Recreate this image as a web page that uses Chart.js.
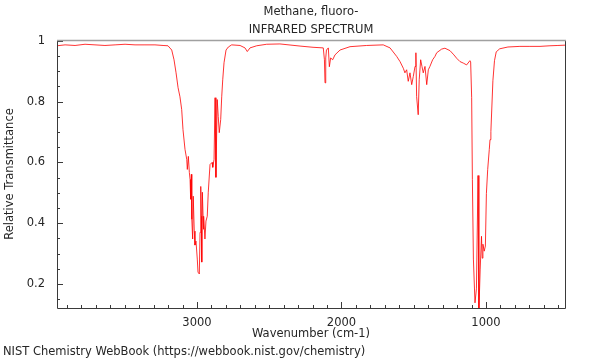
<!DOCTYPE html>
<html>
<head>
<meta charset="utf-8">
<script src="https://cdn.jsdelivr.net/npm/chart.js@4"></script>
<style>
  html, body { margin: 0; padding: 0; background: #fff; }
  #wrap { width: 600px; height: 360px; }
</style>
</head>
<body>
<div id="wrap"><canvas id="irChart" width="600" height="360"></canvas></div>
<script>
// IR spectrum of fluoromethane
var wavenumbers = [
  3969, 3913, 3844, 3775, 3706, 3637, 3567, 3498, 3429, 3360, 3291, 3235, 3201,
  3175, 3159, 3145, 3131, 3118, 3106, 3097, 3083, 3071, 3067, 3060, 3053, 3048,
  3044, 3039, 3036, 3030, 3026, 3019, 3014, 3007, 2998, 2993, 2984, 2979, 2974,
  2970, 2967, 2963, 2958, 2956, 2952, 2945, 2938, 2929, 2922, 2910, 2896, 2891,
  2882, 2875, 2869, 2860, 2853, 2846, 2836, 2829, 2822, 2813, 2799, 2783, 2760,
  2702, 2668, 2652, 2633, 2587, 2518, 2426, 2287, 2197, 2126, 2118, 2114, 2109,
  2104, 2091, 2084, 2075, 2061, 2045, 2010, 1941, 1826, 1711, 1664, 1618, 1595,
  1572, 1561, 1549, 1538, 1526, 1514, 1503, 1491, 1485, 1480, 1469, 1462, 1452,
  1443, 1434, 1422, 1410, 1399, 1388, 1369, 1353, 1341, 1307, 1284, 1249, 1222,
  1203, 1180, 1157, 1134, 1111, 1106, 1099, 1094, 1087, 1076, 1066, 1055, 1049,
  1040, 1031, 1026, 1021, 1012, 1004, 997, 988, 977, 972, 966, 952, 941, 929,
  905, 848, 765, 696, 626, 557, 502, 453
];
var transmittance = [
  0.984, 0.987, 0.985, 0.989, 0.987, 0.985, 0.987, 0.989, 0.987, 0.987, 0.987, 0.985, 0.984,
  0.970, 0.938, 0.895, 0.846, 0.816, 0.774, 0.708, 0.643, 0.610, 0.577, 0.620, 0.567, 0.544,
  0.479, 0.561, 0.413, 0.348, 0.489, 0.374, 0.328, 0.341, 0.282, 0.239, 0.233, 0.370, 0.521,
  0.423, 0.272, 0.502, 0.423, 0.380, 0.423, 0.348, 0.407, 0.423, 0.502, 0.593, 0.600, 0.584,
  0.610, 0.813, 0.551, 0.807, 0.751, 0.698, 0.741, 0.816, 0.872, 0.928, 0.970, 0.980, 0.987,
  0.985, 0.977, 0.965, 0.977, 0.984, 0.989, 0.990, 0.983, 0.979, 0.977, 0.938, 0.862, 0.944,
  0.970, 0.977, 0.915, 0.944, 0.938, 0.954, 0.970, 0.981, 0.985, 0.987, 0.977, 0.949, 0.932,
  0.910, 0.895, 0.905, 0.867, 0.895, 0.856, 0.883, 0.916, 0.961, 0.817, 0.757, 0.872, 0.938,
  0.916, 0.895, 0.916, 0.856, 0.905, 0.916, 0.938, 0.949, 0.961, 0.973, 0.976, 0.968, 0.954,
  0.943, 0.932, 0.927, 0.921, 0.935, 0.931, 0.813, 0.544, 0.282, 0.138, 0.184, 0.557, 0.110,
  0.249, 0.357, 0.285, 0.331, 0.308, 0.325, 0.498, 0.577, 0.643, 0.675, 0.702, 0.869, 0.935, 0.964,
  0.974, 0.980, 0.982, 0.982, 0.982, 0.984, 0.985, 0.986
];
var titleLines = ['Methane, fluoro-', 'INFRARED SPECTRUM'];
var footerText = 'NIST Chemistry WebBook (https://webbook.nist.gov/chemistry)';
var xMajorTicks = [1000, 2000, 3000];

var FONT = '"DejaVu Sans", sans-serif';
var FS = 11.5;
var TEXT = '#262626';
var AXIS = '#3a3a3a';

var points = wavenumbers.map(function (w, i) { return { x: w, y: transmittance[i] }; });

// frame, inward tick marks, title and footer
var decor = {
  id: 'decor',
  afterDraw: function (chart) {
    var ctx = chart.ctx;
    var a = chart.chartArea;
    var xs = chart.scales.x, ys = chart.scales.y;
    ctx.save();

    ctx.strokeStyle = AXIS;
    ctx.lineWidth = 1;
    ctx.beginPath();
    xs.ticks.forEach(function (t) {
      var px = Math.round(xs.getPixelForValue(t.value)) + 0.5;
      var len = xMajorTicks.indexOf(t.value) >= 0 ? 6 : 3;
      ctx.moveTo(px, a.bottom);
      ctx.lineTo(px, a.bottom - len);
    });
    ys.ticks.forEach(function (t) {
      var py = Math.round(ys.getPixelForValue(t.value)) + 0.5;
      var major = Math.round(t.value * 100) % 20 === 0;
      ctx.moveTo(a.left, py);
      ctx.lineTo(a.left + (major ? 6 : 3), py);
    });
    ctx.stroke();

    // frame
    ctx.beginPath();
    ctx.moveTo(a.left + 0.5, a.top);
    ctx.lineTo(a.left + 0.5, a.bottom + 0.5);
    ctx.lineTo(a.right + 0.5, a.bottom + 0.5);
    ctx.lineTo(a.right + 0.5, a.top);
    ctx.stroke();
    ctx.strokeStyle = '#a0a0a0';
    ctx.lineWidth = 1.5;
    ctx.beginPath();
    ctx.moveTo(a.left, a.top + 0.5);
    ctx.lineTo(a.right + 1, a.top + 0.5);
    ctx.stroke();

    ctx.fillStyle = TEXT;
    ctx.font = FS + 'px ' + FONT;
    ctx.textAlign = 'center';
    ctx.textBaseline = 'middle';
    var cx = (a.left + a.right) / 2;
    ctx.fillText(titleLines[0], cx, 12);
    ctx.fillText(titleLines[1], cx, 30);
    ctx.textAlign = 'left';
    ctx.fillText(footerText, 3, 352);
    ctx.restore();
  }
};

new Chart(document.getElementById('irChart'), {
  type: 'line',
  data: {
    datasets: [{
      data: points,
      borderColor: 'rgba(255,0,0,0.8)',
      borderWidth: 1,
      pointRadius: 0,
      tension: 0,
      fill: false
    }]
  },
  options: {
    responsive: false,
    animation: false,
    parsing: false,
    layout: { padding: { top: 40, right: 35, bottom: 0, left: 0 } },
    plugins: {
      legend: { display: false },
      title: { display: false },
      tooltip: { enabled: false }
    },
    scales: {
      x: {
        type: 'linear',
        reverse: true,
        min: 453,
        max: 3969,
        afterFit: function (s) { s.height = 52; },
        grid: { display: false },
        border: { display: false },
        ticks: {
          stepSize: 100,
          includeBounds: false,
          autoSkip: false,
          maxRotation: 0,
          padding: 0,
          color: TEXT,
          font: { family: FONT, size: FS },
          callback: function (v) { return xMajorTicks.indexOf(v) >= 0 ? String(v) : ''; }
        },
        title: {
          display: true,
          text: 'Wavenumber (cm-1)',
          color: TEXT,
          font: { family: FONT, size: FS },
          padding: { bottom: 19 }
        }
      },
      y: {
        type: 'linear',
        min: 0.121,
        max: 1.003,
        afterFit: function (s) { s.width = 57; },
        grid: { display: false },
        border: { display: false },
        ticks: {
          stepSize: 0.05,
          includeBounds: false,
          autoSkip: false,
          padding: 4,
          color: TEXT,
          font: { family: FONT, size: FS },
          callback: function (v) {
            var r = Math.round(v * 100);
            if (r % 20 !== 0) { return ''; }
            return r === 100 ? '1' : String(r / 100);
          }
        },
        title: {
          display: true,
          text: 'Relative Transmittance',
          color: TEXT,
          font: { family: FONT, size: FS },
          padding: { top: 3 }
        }
      }
    }
  },
  plugins: [decor]
});
</script>
</body>
</html>
